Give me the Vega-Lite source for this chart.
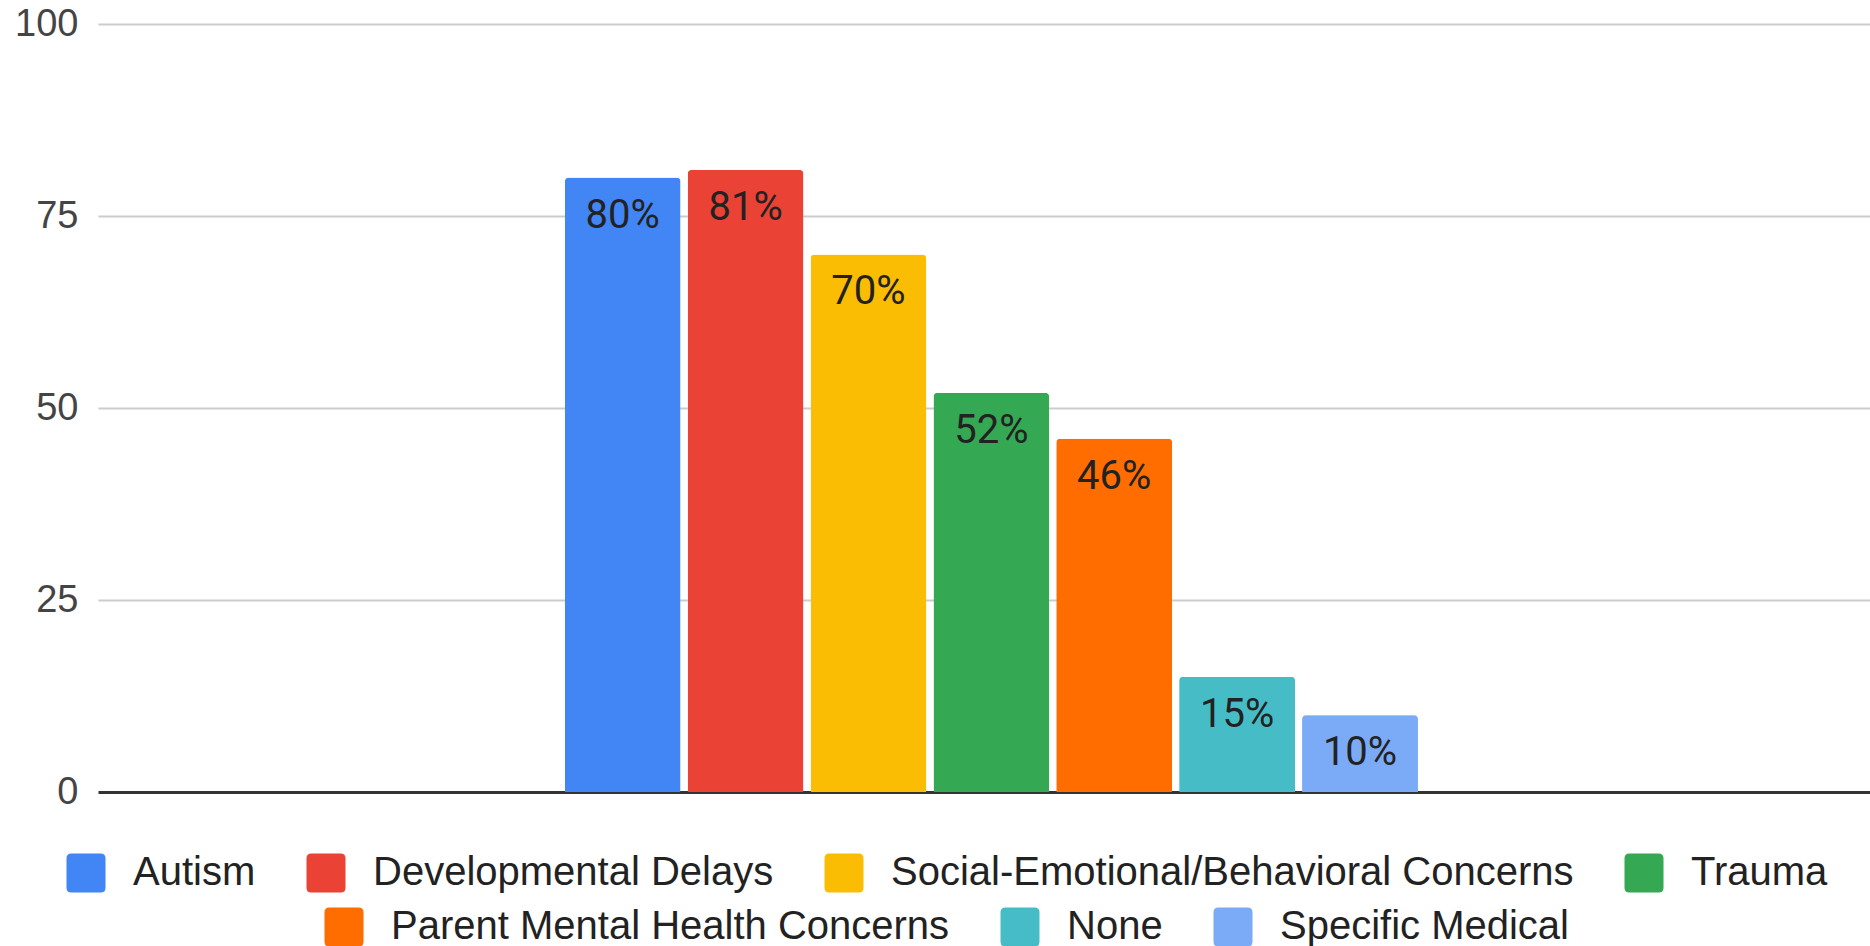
{
  "$schema": "https://vega.github.io/schema/vega-lite/v6.json",
  "width": 1772,
  "height": 768,
  "autosize": {"type": "none"},
  "padding": {"left": 98, "top": 24, "right": 0, "bottom": 154},
  "background": "white",
  "data": {
    "values": [
      {"category": "Autism", "value": 80, "label": "80%"},
      {"category": "Developmental Delays", "value": 81, "label": "81%"},
      {"category": "Social-Emotional/Behavioral Concerns", "value": 70, "label": "70%"},
      {"category": "Trauma", "value": 52, "label": "52%"},
      {"category": "Parent Mental Health Concerns", "value": 46, "label": "46%"},
      {"category": "None", "value": 15, "label": "15%"},
      {"category": "Specific Medical", "value": 10, "label": "10%"}
    ]
  },
  "encoding": {
    "x": {
      "datum": "all",
      "type": "nominal",
      "axis": null,
      "scale": {"paddingInner": 0, "paddingOuter": 0.5386, "align": 0.508}
    },
    "xOffset": {
      "field": "category",
      "type": "nominal",
      "sort": null,
      "scale": {"paddingInner": 0.058, "paddingOuter": 0}
    },
    "y": {
      "field": "value",
      "type": "quantitative",
      "scale": {"domain": [0, 100]},
      "axis": {
        "values": [0, 25, 50, 75, 100],
        "title": null,
        "ticks": false,
        "domain": false,
        "labelFont": "Liberation Sans",
        "labelFontSize": 38,
        "labelColor": "#444444",
        "labelPadding": 20,
        "gridColor": {"condition": {"test": "datum.value === 0", "value": "#333333"}, "value": "#cccccc"},
        "gridWidth": {"condition": {"test": "datum.value === 0", "value": 3}, "value": 2}
      }
    }
  },
  "layer": [
    {
      "mark": {"type": "bar", "cornerRadiusEnd": 4},
      "encoding": {
        "color": {
          "field": "category",
          "type": "nominal",
          "sort": null,
          "scale": {
            "domain": ["Autism", "Developmental Delays", "Social-Emotional/Behavioral Concerns", "Trauma", "Parent Mental Health Concerns", "None", "Specific Medical"],
            "range": ["#4285F4", "#EA4335", "#FBBC04", "#34A853", "#FF6D01", "#46BDC6", "#7BAAF7"]
          },
          "legend": {
            "values": ["Autism", "Developmental Delays", "Social-Emotional/Behavioral Concerns", "Trauma"],
            "orient": "none",
            "legendX": -32,
            "legendY": 829,
            "direction": "horizontal",
            "title": null,
            "padding": 0
          }
        }
      }
    },
    {
      "transform": [{"filter": {"field": "category", "oneOf": ["Parent Mental Health Concerns", "None", "Specific Medical"]}}],
      "mark": {"type": "bar", "cornerRadiusEnd": 4},
      "encoding": {
        "fill": {
          "field": "category",
          "type": "nominal",
          "sort": null,
          "scale": {
            "domain": ["Parent Mental Health Concerns", "None", "Specific Medical"],
            "range": ["#FF6D01", "#46BDC6", "#7BAAF7"]
          },
          "legend": {
            "orient": "none",
            "legendX": 226,
            "legendY": 883,
            "direction": "horizontal",
            "title": null,
            "padding": 0
          }
        }
      }
    },
    {
      "mark": {"type": "text", "baseline": "top", "dy": 18, "font": "Roboto", "fontSize": 40, "color": "#222222"},
      "encoding": {"text": {"field": "label", "type": "nominal"}}
    }
  ],
  "config": {
    "view": {"stroke": null},
    "legend": {
      "labelFont": "Liberation Sans",
      "labelFontSize": 40,
      "labelColor": "#222222",
      "symbolType": "M-1,-0.75 Q-1,-1 -0.75,-1 L0.75,-1 Q1,-1 1,-0.75 L1,0.75 Q1,1 0.75,1 L-0.75,1 Q-1,1 -1,0.75 Z",
      "symbolSize": 1521,
      "symbolStrokeWidth": 0,
      "symbolOpacity": 1,
      "labelOffset": 27,
      "columnPadding": 50,
      "labelLimit": 1000
    }
  }
}
